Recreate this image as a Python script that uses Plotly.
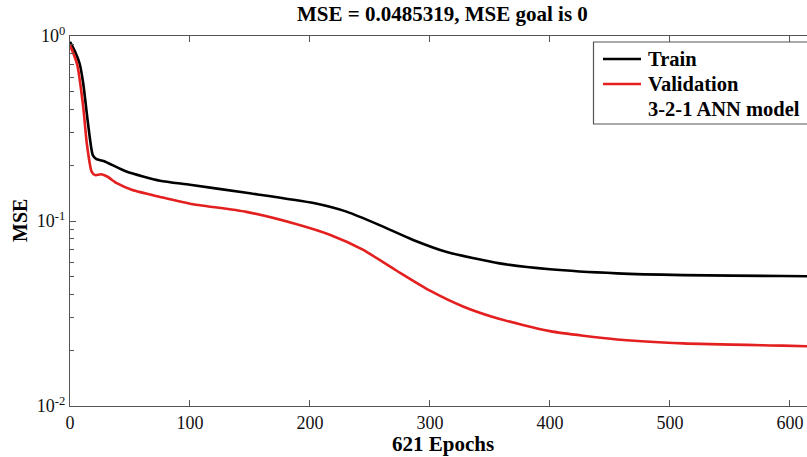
import plotly.graph_objects as go

train_epochs = [0, 4, 8, 11, 15, 19, 22, 28, 47, 75, 100, 147, 203, 231, 258, 286, 314, 358, 400, 456, 511, 594, 621]
train_mse = [0.93, 0.83, 0.71, 0.555, 0.337, 0.227, 0.216, 0.211, 0.185, 0.165, 0.157, 0.142, 0.125, 0.112,
             0.095, 0.079, 0.068, 0.059, 0.0548, 0.0521, 0.051, 0.0504, 0.0502]

val_epochs = [0, 3, 6, 11, 14, 18, 21, 26, 31, 39, 52, 75, 100, 147, 189, 217, 244, 272, 300, 328, 356, 400, 456, 511, 594, 621]
val_mse = [0.89, 0.80, 0.70, 0.415, 0.263, 0.185, 0.177, 0.179, 0.174, 0.16, 0.147, 0.135, 0.124, 0.112, 0.096,
           0.084, 0.070, 0.054, 0.042, 0.0344, 0.0298, 0.0254, 0.0229, 0.0218, 0.0212, 0.0210]

x_ticks = [0, 100, 200, 300, 400, 500, 600]
y_ticks = [0.01, 0.1, 1]
y_ticktext = ["10<sup>-2</sup>", "10<sup>-1</sup>", "10<sup>0</sup>"]
y_minor = [k * 0.01 for k in range(2, 10)] + [k * 0.1 for k in range(2, 10)]

legend_labels = ["Train", "Validation", "3-2-1 ANN model"]
legend_colors = ["black", "#e3201f", None]

title_text = "MSE = 0.0485319, MSE goal is 0"
x_label = "621 Epochs"
y_label = "MSE"

FONT = "Liberation Serif"
AX = "#555555"
W, H = 807, 457
L, T, B = 70, 36, 51
PW, PH = W - L, H - T - B


def px(xp):
    return (xp - L) / PW


def py(yp):
    return (H - B - yp) / PH


fig = go.Figure()
fig.add_trace(go.Scatter(x=train_epochs, y=train_mse, mode="lines", name=legend_labels[0], showlegend=False,
                         line=dict(color=legend_colors[0], width=2.6, shape="spline", smoothing=0.6)))
fig.add_trace(go.Scatter(x=val_epochs, y=val_mse, mode="lines", name=legend_labels[1], showlegend=False,
                         line=dict(color=legend_colors[1], width=2.6, shape="spline", smoothing=0.6)))

fig.update_layout(
    width=W, height=H,
    margin=dict(l=L, r=0, t=T, b=B),
    plot_bgcolor="white", paper_bgcolor="white",
    font=dict(family=FONT, size=18, color="black"),
    showlegend=False,
)

fig.update_xaxes(range=[0, 614.2], tickmode="array", tickvals=x_ticks, automargin=False,
                 ticks="inside", ticklen=6, tickcolor=AX, showline=True, linecolor=AX, linewidth=1.3,
                 mirror="ticks", showgrid=False, zeroline=False,
                 tickfont=dict(family=FONT, size=18, color="#111"))
fig.update_yaxes(type="log", range=[-2, 0], tickmode="array", tickvals=y_ticks, ticktext=y_ticktext,
                 automargin=False,
                 ticks="inside", ticklen=6, tickcolor=AX, showline=True, linecolor=AX, linewidth=1.3,
                 showgrid=False, zeroline=False,
                 minor=dict(tickmode="array", tickvals=y_minor, ticks="inside", ticklen=4, tickcolor=AX, showgrid=False),
                 tickfont=dict(family=FONT, size=18, color="#111"))

# legend box (MATLAB style), drawn in paper coordinates
fig.add_shape(type="rect", xref="paper", yref="paper", x0=px(593.5), x1=px(816), y0=py(124), y1=py(42),
              line=dict(color=AX, width=1.2), fillcolor="white", layer="above")
legend_y = [59, 84, 109]
for lab, col, yy in zip(legend_labels, legend_colors, legend_y):
    if col is not None:
        fig.add_shape(type="line", xref="paper", yref="paper", x0=px(603), x1=px(641), y0=py(yy), y1=py(yy),
                      line=dict(color=col, width=2.6), layer="above")
    fig.add_annotation(text="<b>" + lab + "</b>", xref="paper", yref="paper", x=px(646), y=py(yy),
                       xanchor="left", yanchor="middle", showarrow=False,
                       font=dict(family=FONT, size=20.5, color="black"))

fig.add_annotation(text="<b>" + title_text + "</b>", xref="x", yref="paper", x=310.5, y=1.0,
                   yshift=8, xanchor="center", yanchor="bottom", showarrow=False,
                   font=dict(family=FONT, size=21, color="black"))
fig.add_annotation(text="<b>" + x_label + "</b>", xref="x", yref="paper", x=310.5, y=0,
                   yshift=-24, xanchor="center", yanchor="top", showarrow=False,
                   font=dict(family=FONT, size=21, color="black"))
fig.add_annotation(text="<b>" + y_label + "</b>", xref="paper", yref="paper", x=0, y=0.5,
                   xshift=-50, xanchor="center", yanchor="middle", textangle=-90, showarrow=False,
                   font=dict(family=FONT, size=20, color="black"))

fig.write_html("out.html", config={"displayModeBar": False},
               post_script="document.body.style.margin='0';")
